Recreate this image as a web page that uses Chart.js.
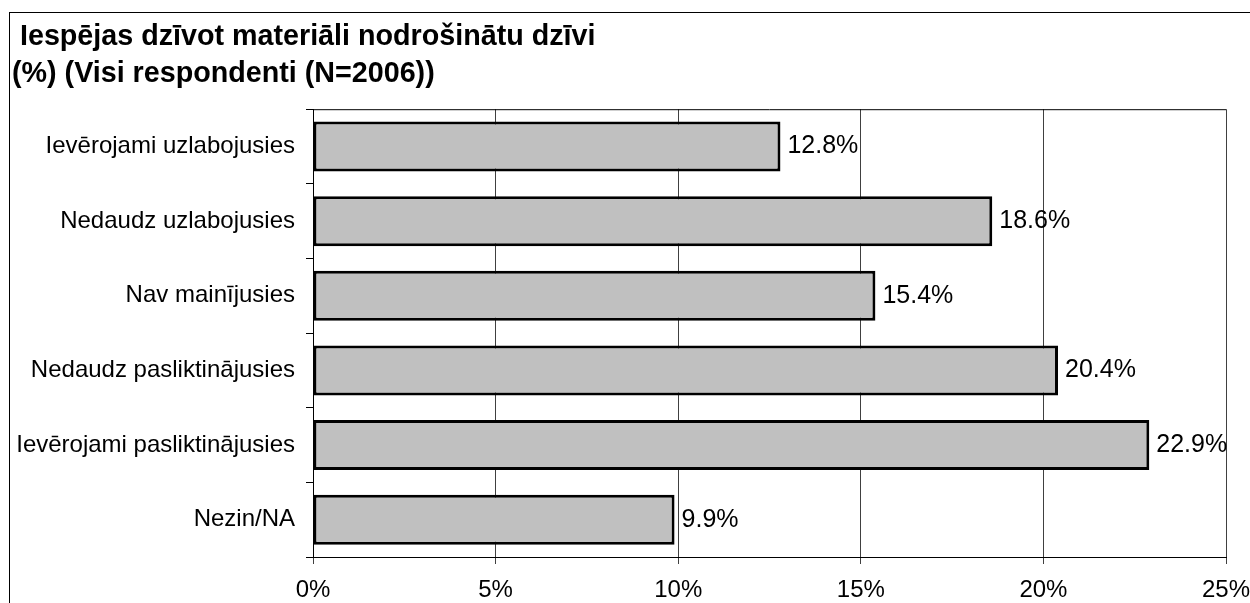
<!DOCTYPE html>
<html>
<head>
<meta charset="utf-8">
<script src="https://cdn.jsdelivr.net/npm/chart.js@4.4.0/dist/chart.umd.min.js"></script>
<style>
  body { margin: 0; background: #fff; overflow: hidden; }
  #wrap { position: relative; width: 1250px; height: 603px; }
  #frame {
    position: absolute; left: 9px; top: 12px; width: 1400px; height: 800px;
    border-left: 1.5px solid #000; border-top: 1.5px solid #000;
  }
  canvas { position: absolute; left: 0; top: 0; }
</style>
</head>
<body>
<div id="wrap">
  <div id="frame"></div>
  <canvas id="my-chart" width="1250" height="603"></canvas>
</div>
<script>
const titleLines = [" Iespējas dzīvot materiāli nodrošinātu dzīvi", "(%) (Visi respondenti (N=2006))"];
const categories = [
  "Ievērojami uzlabojusies",
  "Nedaudz uzlabojusies",
  "Nav mainījusies",
  "Nedaudz pasliktinājusies",
  "Ievērojami pasliktinājusies",
  "Nezin/NA",
];
const values = [12.8, 18.6, 15.4, 20.4, 22.9, 9.9];
const xTicks = [0, 5, 10, 15, 20, 25];

const FONT = "'Liberation Sans', Arial, sans-serif";

// value labels to the right of each bar
const barLabels = {
  id: "barLabels",
  afterDatasetsDraw(chart) {
    const ctx = chart.ctx;
    const meta = chart.getDatasetMeta(0);
    ctx.save();
    ctx.font = "25px " + FONT;
    ctx.fillStyle = "#000";
    ctx.textAlign = "left";
    ctx.textBaseline = "middle";
    meta.data.forEach((bar, i) => {
      ctx.fillText(values[i].toFixed(1) + "%", bar.x + 7, bar.y);
    });
    ctx.restore();
  },
};

// top border of the plot area
const plotTop = {
  id: "plotTop",
  afterDraw(chart) {
    const { ctx, chartArea } = chart;
    ctx.save();
    ctx.strokeStyle = "#000";
    ctx.lineWidth = 1;
    ctx.beginPath();
    ctx.moveTo(chartArea.left, chartArea.top + 0.5);
    ctx.lineTo(chartArea.right, chartArea.top + 0.5);
    ctx.stroke();
    ctx.restore();
  },
};

new Chart(document.getElementById("my-chart"), {
  type: "bar",
  data: {
    labels: categories,
    datasets: [
      {
        data: values,
        backgroundColor: "#C0C0C0",
        borderColor: "#000",
        borderWidth: 3,
        borderSkipped: false,
        categoryPercentage: 1,
        barPercentage: 0.67,
      },
    ],
  },
  options: {
    indexAxis: "y",
    responsive: false,
    animation: false,
    events: [],
    layout: { padding: { left: 12, right: 0, top: 0, bottom: 0 } },
    plugins: {
      legend: { display: false },
      tooltip: { enabled: false },
      title: {
        display: true,
        text: titleLines,
        align: "start",
        color: "#000",
        font: { family: FONT, size: 28.7, weight: "bold", lineHeight: 1.31 },
        padding: { top: 18, bottom: 16 },
      },
    },
    scales: {
      x: {
        min: 0,
        max: 25,
        afterBuildTicks: (scale) => {
          scale.ticks = xTicks.map((v) => ({ value: v }));
        },
        afterFit: (scale) => {
          scale.height = 46;
          scale.paddingLeft = 0;
          scale.paddingRight = 24;
        },
        grid: { color: "#404040", lineWidth: 1, tickLength: 7 },
        border: { color: "#000", width: 1 },
        ticks: {
          color: "#000",
          padding: 12,
          font: { family: FONT, size: 24 },
          callback: (v) => v + "%",
        },
      },
      y: {
        afterFit: (scale) => {
          scale.width = 301;
        },
        grid: { offset: true, drawOnChartArea: false, color: "#000", tickLength: 7 },
        border: { color: "#000", width: 1 },
        ticks: {
          color: "#000",
          padding: 11,
          font: { family: FONT, size: 24 },
        },
      },
    },
  },
  plugins: [barLabels, plotTop],
});
</script>
</body>
</html>
